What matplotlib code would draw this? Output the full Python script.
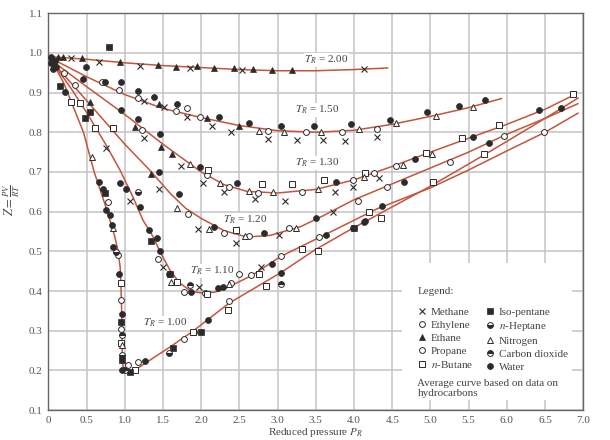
import matplotlib
matplotlib.use("Agg")
import matplotlib.pyplot as plt
from matplotlib.lines import Line2D
from matplotlib.patches import Rectangle

plt.rcParams['font.family'] = ['Liberation Serif', 'DejaVu Serif']
plt.rcParams['mathtext.fontset'] = 'stix'

# average curves (reduced pressure, Z)
pr_200 = [0.05, 0.5, 1.0, 1.5, 2.0, 2.5, 3.0, 3.5, 4.0, 4.44]
z_200 = [0.99, 0.984, 0.975, 0.968, 0.963, 0.958, 0.955, 0.955, 0.958, 0.962]
pr_150 = [0.05, 0.5, 1.0, 1.5, 2.0, 2.5, 3.0, 3.5, 4.0, 4.5, 5.0, 5.5, 5.93]
z_150 = [0.985, 0.94, 0.895, 0.86, 0.837, 0.817, 0.804, 0.80, 0.805, 0.82, 0.84, 0.862, 0.885]
pr_130 = [0.05, 0.5, 1.0, 1.5, 2.0, 2.3, 2.6, 3.0, 3.5, 4.0, 4.5, 5.0, 5.5, 6.0, 6.5, 6.9]
z_130 = [0.98, 0.915, 0.845, 0.77, 0.70, 0.668, 0.651, 0.647, 0.656, 0.68, 0.714, 0.75, 0.785, 0.82, 0.858, 0.896]
pr_120 = [0.05, 0.5, 1.0, 1.33, 1.6, 1.8, 2.0, 2.3, 2.6, 2.9, 3.3, 3.6, 4.0, 4.5, 5.0, 5.5, 6.0, 6.5, 6.93]
z_120 = [0.978, 0.88, 0.77, 0.704, 0.645, 0.608, 0.583, 0.552, 0.536, 0.54, 0.562, 0.59, 0.63, 0.67, 0.71, 0.75, 0.795, 0.835, 0.872]
pr_110 = [0.05, 0.3, 0.5, 0.75, 0.94, 1.1, 1.24, 1.37, 1.46, 1.59, 1.72, 1.87, 2.05, 2.2, 2.41, 2.67,
          3.04, 3.6, 4.3, 5.0, 5.5, 6.0, 6.5, 6.93]
z_110 = [0.978, 0.91, 0.85, 0.77, 0.704, 0.64, 0.578, 0.537, 0.50, 0.453, 0.42, 0.399, 0.394, 0.398, 0.415, 0.44,
         0.487, 0.54, 0.607, 0.66, 0.705, 0.753, 0.80, 0.848]
pr_100 = [0.05, 0.2, 0.46, 0.6, 0.76, 0.87, 0.91, 0.94, 0.95, 0.96, 0.965, 0.97, 0.99, 1.07, 1.15, 1.3, 1.6, 1.9,
          2.37, 3.04, 3.5, 4.0, 4.5, 4.98, 5.5, 6.0, 6.5, 6.93]
z_100 = [0.978, 0.925, 0.80, 0.70, 0.608, 0.537, 0.503, 0.46, 0.42, 0.35, 0.28, 0.22, 0.198, 0.195, 0.203, 0.222,
         0.26, 0.30, 0.37, 0.446, 0.505, 0.56, 0.612, 0.662, 0.72, 0.777, 0.835, 0.886]

curve_labels = ['$T_R$ = 2.00', '$T_R$ = 1.50', '$T_R$ = 1.30', '$T_R$ = 1.20', '$T_R$ = 1.10', '$T_R$ = 1.00']
label_pos = [(3.35, 0.982), (3.23, 0.856), (3.23, 0.722), (2.28, 0.58), (1.85, 0.45), (1.24, 0.32)]

# data points per substance
methane = [(0.30, 0.987), (0.66, 0.976), (1.2, 0.967), (1.85, 0.961), (2.54, 0.956), (4.13, 0.959),
           (1.25, 0.88), (1.52, 0.863), (1.82, 0.838), (2.14, 0.815), (2.39, 0.80), (2.87, 0.782), (3.25, 0.78),
           (3.59, 0.78), (3.88, 0.777), (4.3, 0.788), (1.25, 0.785), (1.74, 0.714), (2.03, 0.672), (2.3, 0.649),
           (2.71, 0.631), (3.1, 0.626), (3.75, 0.649), (3.99, 0.662), (4.33, 0.684), (0.76, 0.76), (1.07, 0.626),
           (1.45, 0.657), (1.96, 0.555), (2.46, 0.522), (3.02, 0.54), (3.72, 0.60), (1.5, 0.46), (1.97, 0.41),
           (2.78, 0.46)]
ethylene = [(0.70, 0.926), (0.93, 0.906), (1.17, 0.886), (1.67, 0.853), (1.82, 0.86), (1.98, 0.838), (2.88, 0.803),
            (3.37, 0.80), (3.84, 0.80), (4.3, 0.807), (1.83, 0.593), (2.3, 0.545), (2.63, 0.538), (3.15, 0.56),
            (4.05, 0.626), (4.43, 0.662), (5.26, 0.725), (5.96, 0.79), (0.95, 0.377), (0.95, 0.304), (1.04, 0.213),
            (1.17, 0.222), (1.78, 0.278), (1.91, 0.297), (2.37, 0.376), (0.91, 0.49), (0.78, 0.625)]
ethane = [(0.19, 0.99), (0.44, 0.987), (0.94, 0.976), (1.43, 0.969), (1.67, 0.964), (1.94, 0.967), (2.17, 0.961),
          (2.43, 0.961), (2.68, 0.959), (2.93, 0.956), (3.19, 0.956), (1.45, 0.87), (2.08, 0.835), (2.5, 0.815),
          (1.13, 0.813), (1.48, 0.762), (1.62, 0.745), (0.54, 0.877), (1.35, 0.694), (0.13, 0.99)]
propane = [(1.23, 0.805), (2.07, 0.692), (2.37, 0.662), (2.75, 0.647), (3.32, 0.649), (3.99, 0.679), (4.26, 0.697),
           (4.55, 0.715), (1.43, 0.48), (1.77, 0.398), (2.05, 0.395), (2.39, 0.419), (2.5, 0.443), (2.65, 0.44),
           (3.04, 0.489), (3.54, 0.537), (6.49, 0.80), (0.35, 0.92), (0.2, 0.95)]
butane = [(2.09, 0.704), (2.79, 0.669), (3.19, 0.669), (3.61, 0.679), (4.15, 0.697), (4.94, 0.747), (5.41, 0.785),
          (5.9, 0.818), (6.87, 0.896), (2.45, 0.553), (1.69, 0.423), (2.07, 0.392), (2.76, 0.444), (2.85, 0.412),
          (3.53, 0.50), (3.32, 0.505), (4.19, 0.60), (4.35, 0.583), (5.7, 0.745), (5.04, 0.675), (1.89, 0.296),
          (1.13, 0.20), (2.35, 0.352), (0.95, 0.42), (0.95, 0.27), (0.3, 0.877), (0.41, 0.873), (0.61, 0.81),
          (0.85, 0.812)]
isopentane = [(0.8, 1.014), (0.15, 0.917), (0.48, 0.836), (0.74, 0.647), (0.95, 0.322), (0.97, 0.226),
              (1.065, 0.195), (1.63, 0.257), (2.0, 0.297), (1.35, 0.527), (1.59, 0.442), (4.0, 0.558), (0.55, 0.85)]
heptane = [(1.58, 0.243), (0.89, 0.499), (1.17, 0.65), (0.97, 0.24)]
nitrogen = [(2.76, 0.803), (3.09, 0.80), (3.57, 0.80), (4.06, 0.807), (4.55, 0.823), (5.07, 0.84), (5.56, 0.863),
            (1.85, 0.719), (2.24, 0.671), (2.62, 0.651), (2.94, 0.649), (3.53, 0.656), (4.13, 0.687), (4.64, 0.717),
            (5.02, 0.746), (0.57, 0.738), (0.85, 0.558), (0.96, 0.264), (1.61, 0.423), (2.37, 0.417), (1.69, 0.608),
            (2.1, 0.556), (2.57, 0.538), (3.24, 0.558)]
co2 = [(1.85, 0.415), (3.04, 0.417), (1.0, 0.2), (0.97, 0.29)]
water = [(0.49, 0.964), (0.45, 0.933), (0.74, 0.926), (0.95, 0.926), (1.17, 0.904), (1.38, 0.888), (1.68, 0.87),
         (2.23, 0.838), (2.63, 0.823), (3.05, 0.815), (3.48, 0.815), (3.96, 0.82), (4.47, 0.832), (4.95, 0.85),
         (5.37, 0.866), (5.72, 0.881), (0.95, 0.855), (1.17, 0.833), (1.46, 0.795), (1.98, 0.712), (2.47, 0.671),
         (3.76, 0.674), (4.8, 0.732), (5.56, 0.788), (6.42, 0.856), (1.45, 0.70), (1.71, 0.644), (2.17, 0.562),
         (2.82, 0.547), (3.5, 0.583), (4.65, 0.675), (5.76, 0.774), (6.71, 0.861), (1.87, 0.398), (2.22, 0.407),
         (2.28, 0.411), (2.93, 0.467), (0.94, 0.673), (1.02, 0.658), (1.2, 0.612), (1.32, 0.553), (1.42, 0.534),
         (1.46, 0.50), (1.58, 0.442), (0.66, 0.675), (0.72, 0.658), (0.76, 0.604), (0.81, 0.591), (0.83, 0.566),
         (0.85, 0.511), (0.93, 0.443), (0.97, 0.342), (0.97, 0.2), (1.27, 0.224), (2.09, 0.327), (3.04, 0.446),
         (3.99, 0.559), (4.14, 0.577), (4.36, 0.614), (3.63, 0.541), (4.13, 0.574), (0.22, 0.902)]
origin_pts = [(0.03, 0.975), (0.05, 0.985), (0.07, 0.97), (0.09, 0.98), (0.04, 0.99), (0.1, 0.965), (0.06, 0.96)]

xticks = [0, 0.5, 1.0, 1.5, 2.0, 2.5, 3.0, 3.5, 4.0, 4.5, 5.0, 5.5, 6.0, 6.5, 7.0]
xticklabels = ['0', '0.5', '1.0', '1.5', '2.0', '2.5', '3.0', '3.5', '4.0', '4.5', '5.0', '5.5', '6.0', '6.5', '7.0']
yticks = [0.1, 0.2, 0.3, 0.4, 0.5, 0.6, 0.7, 0.8, 0.9, 1.0, 1.1]

line_col = '#c4553b'
ink = '#2b2b2b'

fig = plt.figure(figsize=(6.1, 4.4), dpi=100)
ax = fig.add_axes([0.0792, 0.068, 0.877, 0.902])
ax.set_xlim(0, 7.0)
ax.set_ylim(0.1, 1.1)
ax.set_axisbelow(True)
ax.grid(True, color='#c4c4c4', lw=1.1)

for pr, z in [(pr_200, z_200), (pr_150, z_150), (pr_130, z_130), (pr_120, z_120), (pr_110, z_110), (pr_100, z_100)]:
    ax.plot(pr, z, color=line_col, lw=1.1, zorder=2)

for txt, (x, y) in zip(curve_labels, label_pos):
    ax.text(x, y, txt, fontsize=8, color='#444', va='center', ha='left',
            bbox=dict(fc='white', ec='none', pad=0.5), zorder=3)

styles = {
    'Methane': dict(marker='x', ms=4, mfc='none', mec=ink, mew=0.8),
    'Ethylene': dict(marker='o', ms=4.2, mfc='white', mec=ink, mew=0.7),
    'Ethane': dict(marker='^', ms=4.5, mfc=ink, mec=ink, mew=0.5),
    'Propane': dict(marker='o', ms=4.2, mfc='white', mec=ink, mew=0.7),
    '$n$-Butane': dict(marker='s', ms=4.2, mfc='white', mec=ink, mew=0.7),
    'Iso-pentane': dict(marker='s', ms=3.8, mfc=ink, mec=ink, mew=0.5),
    '$n$-Heptane': dict(marker='o', ms=4.2, fillstyle='bottom', mfc=ink, mfcalt='white', mec=ink, mew=0.7),
    'Nitrogen': dict(marker='^', ms=4.5, mfc='white', mec=ink, mew=0.7),
    'Carbon dioxide': dict(marker='o', ms=4.2, fillstyle='top', mfc=ink, mfcalt='white', mec=ink, mew=0.7),
    'Water': dict(marker='o', ms=4.3, mfc=ink, mec=ink, mew=0.5),
}
series = [methane, ethylene, ethane, propane, butane, isopentane, heptane, nitrogen, co2, water]

handles = []
for (name, st), pts in zip(styles.items(), series):
    xs = [p[0] for p in pts]
    ys = [p[1] for p in pts]
    ax.plot(xs, ys, ls='none', zorder=4, **st)
    handles.append(Line2D([], [], ls='none', **st))

ax.plot([p[0] for p in origin_pts], [p[1] for p in origin_pts], ls='none', zorder=4, **styles['Water'])

# white legend area covering the grid
ax.add_patch(Rectangle((4.63, 0.125), 2.22, 0.345, fc='white', ec='none', zorder=1))
ax.text(4.83, 0.40, 'Legend:', fontsize=8, color='#444', va='center', ha='left')
leg = ax.legend(handles, list(styles.keys()), ncol=2, loc='upper left',
                bbox_to_anchor=(0.678, 0.28), frameon=False, fontsize=8,
                handlelength=0.6, handletextpad=0.5, columnspacing=1.2, labelspacing=0.3,
                borderpad=0.2)
for t in leg.get_texts():
    t.set_color('#444')
ax.text(4.83, 0.155, 'Average curve based on data on\nhydrocarbons', fontsize=8, color='#444',
        va='center', ha='left', linespacing=1.1)

ax.set_xticks(xticks)
ax.set_xticklabels(xticklabels)
ax.set_yticks(yticks)
ax.tick_params(length=0, labelsize=8, labelcolor='#555', pad=4)
for s in ax.spines.values():
    s.set_color('#666')
    s.set_linewidth(1.0)
ax.set_xlabel('Reduced pressure $P_R$', fontsize=8, color='#444', labelpad=1)
ax.set_ylabel(r'$Z = \frac{PV}{RT}$', fontsize=9, color='#444')
ax.yaxis.set_label_coords(-0.05, 0.53)

fig.savefig('out.png', dpi=100)
